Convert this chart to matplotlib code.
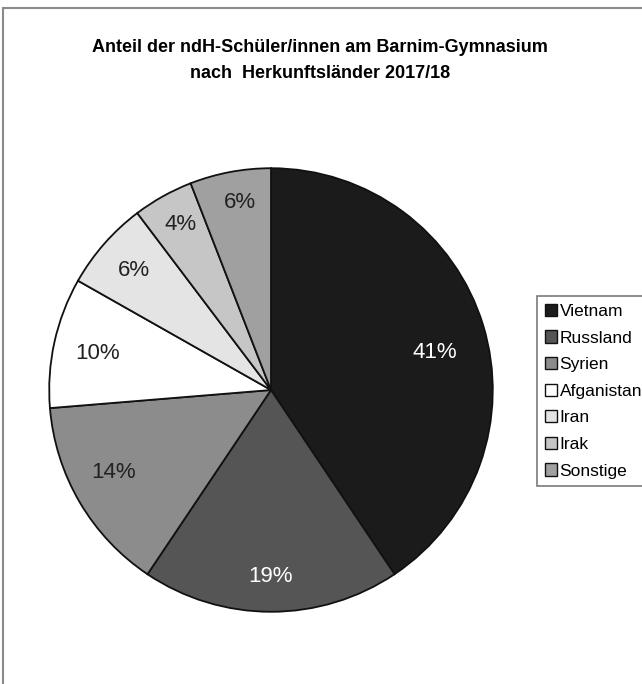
import matplotlib
matplotlib.use("Agg")
import matplotlib.pyplot as plt
from matplotlib.patches import Rectangle

plt.rcParams["font.family"] = ["Liberation Sans", "DejaVu Sans"]

countries = ["Vietnam", "Russland", "Syrien", "Afganistan", "Iran", "Irak", "Sonstige"]
shares = [40.6, 18.8, 14.3, 9.5, 6.5, 4.4, 5.9]
pct_labels = ["41%", "19%", "14%", "10%", "6%", "4%", "6%"]
colors = ["#1b1b1b", "#555555", "#8c8c8c", "#ffffff", "#e4e4e4", "#c6c6c6", "#a0a0a0"]
text_colors = ["white", "white", "#222222", "#222222", "#222222", "#222222", "#222222"]
# label placement (pie radius = 1), mimicking the spreadsheet "best fit" layout
label_xy = [(0.74, 0.17), (0.00, -0.84), (-0.71, -0.37), (-0.78, 0.165),
            (-0.62, 0.54), (-0.41, 0.745), (-0.14, 0.845)]

W, H = 642, 684
fig = plt.figure(figsize=(W / 100, H / 100), dpi=100)
fig.patch.set_facecolor("white")
# frame of the original chart area (only top/left edges visible)
fig.add_artist(Rectangle((3 / W, -0.05), 1.1, 1 - 8 / H + 0.05, transform=fig.transFigure,
                         fill=False, edgecolor="#8a8a8a", linewidth=1.5))

cx, cy, r = 271, 390, 224
ax = fig.add_axes([(cx - r) / W, (H - cy - r) / H, 2 * r / W, 2 * r / H])
wedges, _ = ax.pie(shares, colors=colors, startangle=90, counterclock=False,
                   wedgeprops=dict(edgecolor="#111111", linewidth=1.3))
for lab, (x, y), c in zip(pct_labels, label_xy, text_colors):
    ax.text(x, y, lab, ha="center", va="center", fontsize=16, color=c)
ax.set_xlim(-1.01, 1.01); ax.set_ylim(-1.01, 1.01)
ax.set_aspect("equal")

fig.text(320 / W, 1 - 48 / H, "Anteil der ndH-Schüler/innen am Barnim-Gymnasium",
         ha="center", va="center", fontsize=13, fontweight="bold")
fig.text(320 / W, 1 - 73 / H, "nach  Herkunftsländer 2017/18",
         ha="center", va="center", fontsize=13, fontweight="bold")

leg = fig.legend(wedges, countries, loc="upper left",
                 bbox_to_anchor=(537 / W, 1 - 296 / H), fontsize=12.5,
                 handlelength=0.7, handleheight=0.7, handletextpad=0.15,
                 labelspacing=0.66, borderpad=0.45, borderaxespad=0,
                 fancybox=False, framealpha=1, edgecolor="#7a7a7a")
leg.get_frame().set_linewidth(1.2)
for h in leg.legend_handles:
    h.set_linewidth(1.0)

fig.savefig("out.png", dpi=100)
